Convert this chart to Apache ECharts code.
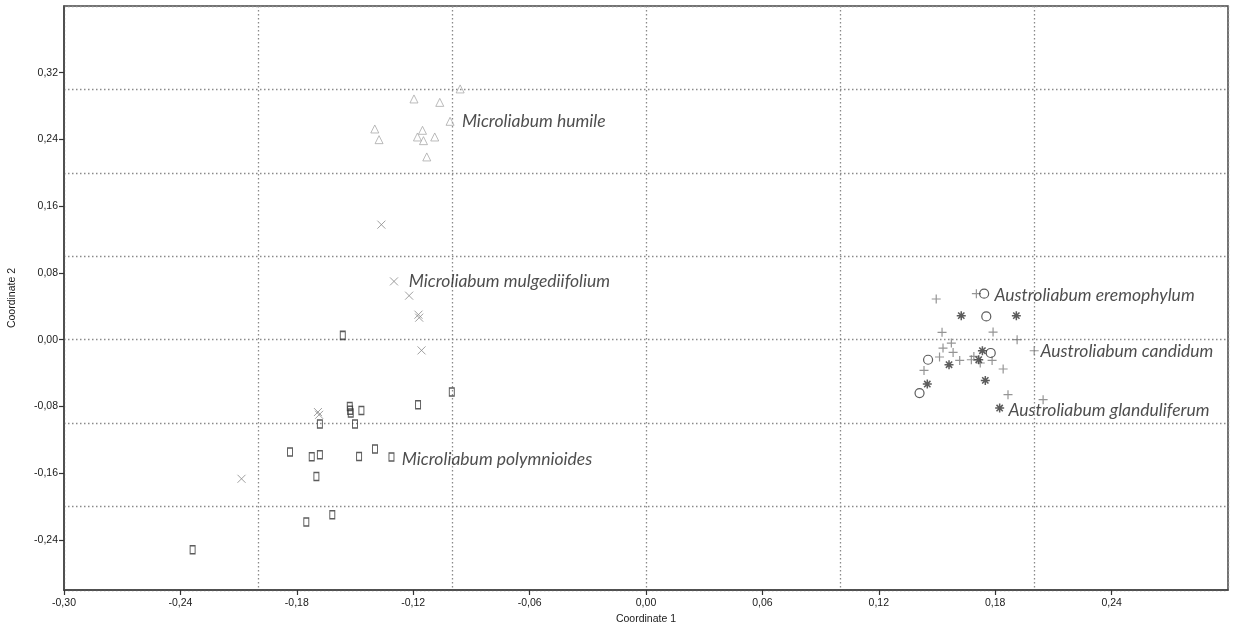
<!DOCTYPE html>
<html>
<head>
<meta charset="utf-8">
<script src="https://cdn.jsdelivr.net/npm/echarts@6/dist/echarts.min.js"></script>
<style>
html,body{margin:0;padding:0;background:#fff;}
#chart{width:1236px;height:634px;}
</style>
</head>
<body>
<div id="chart"></div>
<script>
// Tick labels
const xTicks = [-0.30, -0.24, -0.18, -0.12, -0.06, 0.00, 0.06, 0.12, 0.18, 0.24];
const yTicks = [-0.24, -0.16, -0.08, 0.00, 0.08, 0.16, 0.24, 0.32];

// Microliabum humile (triangles)
const humile = [
  [-0.0958, 0.3006], [-0.1196, 0.2886], [-0.1063, 0.2845], [-0.1010, 0.2618],
  [-0.1398, 0.2526], [-0.1376, 0.2398], [-0.1152, 0.2510], [-0.1178, 0.2430],
  [-0.1147, 0.2386], [-0.1089, 0.2430], [-0.1130, 0.2191]
];
// Microliabum mulgediifolium (crosses)
const mulgediifolium = [
  [-0.1364, 0.1379], [-0.1299, 0.0699], [-0.1221, 0.0528], [-0.1173, 0.0300],
  [-0.1169, 0.0264], [-0.1157, -0.0128], [-0.1691, -0.0867], [-0.1685, -0.0900],
  [-0.2085, -0.1667]
];
// Microliabum polymnioides (squares)
const polymnioides = [
  [-0.1563, 0.0052], [-0.1001, -0.0627], [-0.1175, -0.0779], [-0.1527, -0.0800],
  [-0.1522, -0.0879], [-0.1525, -0.0845], [-0.1467, -0.0848], [-0.1500, -0.1011],
  [-0.1681, -0.1011], [-0.1835, -0.1347], [-0.1723, -0.1403], [-0.1681, -0.1379],
  [-0.1699, -0.1639], [-0.1479, -0.1399], [-0.1397, -0.1311], [-0.1312, -0.1406],
  [-0.1751, -0.2186], [-0.1617, -0.2098], [-0.2337, -0.2518]
];
// Austroliabum candidum (plus)
const candidum = [
  [0.1496, 0.0488], [0.1703, 0.0552], [0.1526, 0.0088], [0.1789, 0.0092],
  [0.1913, 0.0000], [0.1574, -0.0040], [0.1531, -0.0100], [0.1583, -0.0152],
  [0.1513, -0.0207], [0.1617, -0.0248], [0.1677, -0.0240], [0.1723, -0.0279],
  [0.1784, -0.0248], [0.1841, -0.0351], [0.1433, -0.0368], [0.1866, -0.0659],
  [0.2001, -0.0132], [0.2047, -0.0719], [0.1690, -0.0200]
];
// Austroliabum eremophylum (circles)
const eremophylum = [
  [0.1743, 0.0552], [0.1754, 0.0279], [0.1777, -0.0159], [0.1454, -0.0240],
  [0.1410, -0.0639]
];
// Austroliabum glanduliferum (asterisks)
const glanduliferum = [
  [0.1625, 0.0288], [0.1909, 0.0288], [0.1734, -0.0132], [0.1715, -0.0240],
  [0.1562, -0.0300], [0.1450, -0.0531], [0.1749, -0.0488], [0.1823, -0.0819]
];

// Group labels and their anchor positions (left-middle of text)
const labelNames = [
  'Microliabum humile', 'Microliabum mulgediifolium', 'Microliabum polymnioides',
  'Austroliabum eremophylum', 'Austroliabum candidum', 'Austroliabum glanduliferum'
];
const labelAnchors = [
  [-0.0949, 0.2614], [-0.1223, 0.0695], [-0.1259, -0.1439],
  [0.1796, 0.0528], [0.2033, -0.0144], [0.1868, -0.0851]
];

const fmt = v => (Math.abs(v) < 1e-9 ? 0 : v).toFixed(2).replace('.', ',');
const clear = 'rgba(0,0,0,0)';
const plusPath = 'path://M5,0L5,10M0,5L10,5';
const crossPath = 'path://M0,0L10,10M10,0L0,10';
const starPath = 'path://M5,0L5,10M0,5L10,5M1.5,1.5L8.5,8.5M8.5,1.5L1.5,8.5';
const axisFont = {fontFamily: 'Liberation Sans, Arial, sans-serif', fontSize: 10.5, color: '#1a1a1a'};
const gridLine = {show: true, lineStyle: {color: '#8a8a8a', type: [1.5, 2.5], width: 1.3}};

function scat(data, symbol, size, color, width) {
  return {
    type: 'scatter', data: data, symbol: symbol, symbolSize: size,
    itemStyle: {color: clear, borderColor: color, borderWidth: width},
    emphasis: {disabled: true}, z: 3
  };
}

const chart = echarts.init(document.getElementById('chart'));
chart.setOption({
  animation: false,
  backgroundColor: '#fff',
  grid: {left: 64, right: 8, top: 6, bottom: 44, show: true, borderColor: '#444', borderWidth: 1.5,
         backgroundColor: 'transparent', containLabel: false, outerBoundsMode: 'none'},
  xAxis: [
    {
      type: 'value', min: -0.30, max: 0.30, interval: 0.06,
      axisLine: {show: true, onZero: false, lineStyle: {color: '#444', width: 1.5}},
      axisTick: {show: true, length: 5, lineStyle: {color: '#333', width: 1.2}},
      axisLabel: Object.assign({}, axisFont, {formatter: fmt, showMaxLabel: false, showMinLabel: true, margin: 8}),
      splitLine: {show: false},
      name: 'Coordinate 1', nameLocation: 'middle', nameGap: 24,
      nameTextStyle: axisFont, z: 5
    },
    {
      type: 'value', min: -0.30, max: 0.30, interval: 0.1, position: 'bottom',
      axisLine: {show: false, onZero: false}, axisTick: {show: false}, axisLabel: {show: false},
      splitLine: gridLine
    }
  ],
  yAxis: [
    {
      type: 'value', min: -0.30, max: 0.40,
      axisLine: {show: true, onZero: false, lineStyle: {color: '#444', width: 1.5}},
      axisTick: {show: true, length: 5, customValues: yTicks, lineStyle: {color: '#333', width: 1.2}},
      axisLabel: Object.assign({}, axisFont, {formatter: fmt, customValues: yTicks, margin: 6}),
      splitLine: {show: false},
      name: 'Coordinate 2', nameLocation: 'middle', nameGap: 46, nameRotate: 90,
      nameTextStyle: axisFont, z: 5
    },
    {
      type: 'value', min: -0.30, max: 0.40, interval: 0.1, position: 'left',
      axisLine: {show: false, onZero: false}, axisTick: {show: false}, axisLabel: {show: false},
      splitLine: gridLine
    }
  ],
  series: [
    scat(humile, 'triangle', 8, '#aaaaaa', 1),
    scat(mulgediifolium, crossPath, 8, '#888888', 1),
    scat(polymnioides, 'rect', [5, 8], '#333333', 1.2),
    scat(candidum, plusPath, 9, '#7a7a7a', 1.2),
    scat(eremophylum, 'circle', 9, '#333333', 1.2),
    scat(glanduliferum, starPath, 9, '#333333', 1.5),
    {
      type: 'scatter', symbolSize: 0, silent: true, z: 4,
      data: labelNames.map((n, i) => ({name: n, value: labelAnchors[i]})),
      label: {
        show: true, position: 'right', distance: 0, formatter: p => p.name,
        fontFamily: 'Lato, Open Sans, sans-serif', fontStyle: 'italic', fontSize: 17.5, color: '#222'
      }
    }
  ]
});
</script>
</body>
</html>
